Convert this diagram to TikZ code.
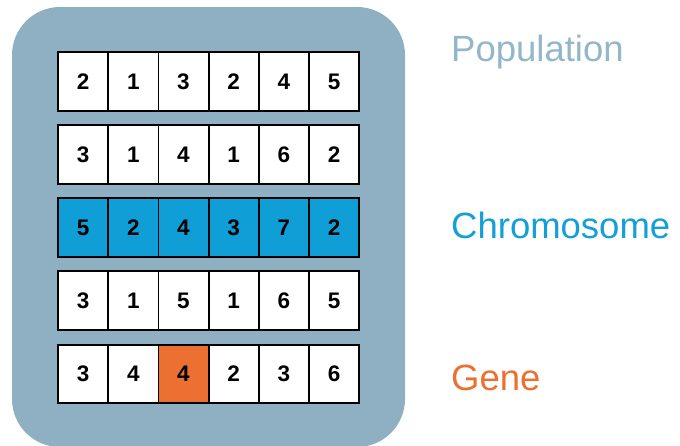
\documentclass[tikz,border=0pt]{standalone}
\usepackage{fontspec}
\setmainfont{Liberation Sans}
\definecolor{popbg}{HTML}{8FB0C2}
\definecolor{poptext}{HTML}{93B6C8}
\definecolor{chromblue}{HTML}{0F9ED6}
\definecolor{chromtext}{HTML}{159FD8}
\definecolor{geneorange}{HTML}{EC7031}
\begin{document}
\begin{tikzpicture}[x=1pt,y=-1pt,
  cell/.style={draw=black, line width=1.8pt, fill=white, minimum width=50.2pt,
    minimum height=58.5pt, inner sep=0pt, font=\fontsize{22.5}{22.5}\selectfont\bfseries},
  chromcell/.style={cell, fill=chromblue},
  genecell/.style={cell, fill=geneorange},
  label/.style={anchor=west, inner sep=0pt, font=\fontsize{36.5}{36.5}\selectfont}]
\useasboundingbox (0,0) rectangle (680,445);
% population background
\fill[popbg, rounded corners=48pt] (12,7) rectangle (405,447);
% chromosome rows
\foreach \r/\vals/\y in {1/{2,1,3,2,4,5}/81.5, 2/{3,1,4,1,6,2}/154.5,
    4/{3,1,5,1,6,5}/300.5} {
  \foreach \v [count=\c] in \vals {
    \node[cell] (r\r c\c) at ({58+25.1+50.2*(\c-1)},\y) {\v};
  }
}
\foreach \v [count=\c] in {5,2,4,3,7,2} {
  \node[chromcell] (r3c\c) at ({58+25.1+50.2*(\c-1)},227.5) {\v};
}
\foreach \v [count=\c] in {3,4,4,2,3,6} {
  \ifnum\c=3
    \node[genecell] (r5c\c) at ({58+25.1+50.2*(\c-1)},374) {\v};
  \else
    \node[cell] (r5c\c) at ({58+25.1+50.2*(\c-1)},374) {\v};
  \fi
}
% labels
\node[label, text=poptext] (poplabel) at (451,52) {Population};
\node[label, text=chromtext] (chromlabel) at (451,225) {Chromosome};
\node[label, text=geneorange] (genelabel) at (451,378) {Gene};
\end{tikzpicture}
\end{document}
